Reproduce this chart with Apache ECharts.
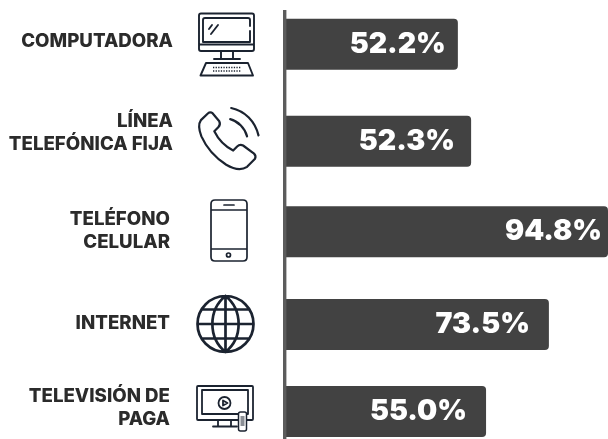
<!DOCTYPE html>
<html><head><meta charset="utf-8">
<style>html,body{margin:0;padding:0;background:#fff}#c{width:608px;height:439px}</style>
<script src="https://cdn.jsdelivr.net/npm/echarts@6/dist/echarts.min.js"></script>
</head><body><div id="c"></div>
<script>
// ---- data ----
const categories = ['COMPUTADORA', 'LÍNEA\nTELEFÓNICA FIJA', 'TELÉFONO\nCELULAR', 'INTERNET', 'TELEVISIÓN DE\nPAGA'];
const printedValues = ['52.2%', '52.3%', '94.8%', '73.5%', '55.0%'];
// Bar lengths as drawn in the picture (the bars are not proportional to their printed figures)
const drawnLengths = [50.6, 54.5, 94.8, 77.4, 58.9];

// ---- layout ----
const rowCenters = [44.2, 141.2, 231.8, 324.6, 411.6];
const labelInsets = [12, 16, 6, 19, 19];
const catRight = [173, 173, 170, 170, 170];
const catMiddle = [41, 133, 231, 323.5, 408];
const FONT = 'Inter';
const BAR = '#424242', INK = '#2b2b2b', ICON = '#1b2330';

const grids = [], xAxes = [], yAxes = [], series = [];
categories.forEach((cat, i) => {
  grids.push({left: 286, width: 322, top: rowCenters[i] - 26, height: 52});
  xAxes.push({gridIndex: i, type: 'value', min: 0, max: 94.8, show: false});
  yAxes.push({gridIndex: i, type: 'category', data: [cat], show: false});
  series.push({
    type: 'bar', xAxisIndex: i, yAxisIndex: i, barWidth: 51, silent: true,
    data: [drawnLengths[i]],
    itemStyle: {color: BAR, borderRadius: [0, 4, 4, 0]},
    label: {
      show: true, position: 'insideRight', distance: labelInsets[i],
      formatter: printedValues[i], color: '#fff',
      fontFamily: FONT, fontWeight: 900, fontSize: 28.5, letterSpacing: -1.2
    }
  });
});

const stroke = (w) => ({fill: 'none', stroke: ICON, lineWidth: w, lineCap: 'round', lineJoin: 'round'});
function icon(pathData, x, y, width, height, w) {
  return {type: 'path', shape: {pathData, layout: 'cover', x, y, width, height}, style: stroke(w)};
}
const circ = (cx, cy, r) => `M${cx - r} ${cy}A${r} ${r} 0 1 1 ${cx + r} ${cy}A${r} ${r} 0 1 1 ${cx - r} ${cy}Z`;

const computer = 'M201 13.5H252Q254 13.5 254 15.5V49Q254 51 252 51H201Q199 51 199 49V15.5Q199 13.5 201 13.5Z' +
  'M203 42V20Q203 18 205 18H248Q250 18 250 20V26M250 31V42M203 42H250M199 44.5H254' +
  'M221 51V59M233 51V59M214 59H240M206 63H248L253 75.5H200.5ZM211 34L218 25M209 29L212 25';
const keys = 'M213 67.5H241M213 71H241';
const handset = 'M208 113L200.5 120C197 125 199 131 201 136C206 147 215 157 226 164C233 168 241 170 247 166L255 158' +
  'C256 156 255 154 254 153L243 145C241 144 239 144 237 146L233 150C225 146 218 139 214 131L218 127C220 125 220 123 219 121L212 113C211 112 209 112 208 113Z' +
  'M230 119C238 121 245 128 247 136M231 108C245 111 255 121 258.5 135';
const mobile = 'M215 200H243Q247 200 247 204V257Q247 261 243 261H215Q211 261 211 257V204Q211 200 215 200Z' +
  'M211 210H247M224 205H234M211 249H247' + circ(228.5, 255, 2);
const globe = circ(225.5, 324, 28) + 'M225.5 296V352M197.5 324H253.5M202 309.5H249M202 338.5H249' +
  'M225.5 296C208 310 208 338 225.5 352M225.5 296C243 310 243 338 225.5 352';
const tv = 'M198 386H252Q253 386 253 387V419Q253 420 252 420H198Q197 420 197 419V387Q197 386 198 386Z' +
  'M202 414V390H248V414H202M218 420V426M231 420V426M213 426.5H237' + circ(224.5, 403, 6) + 'M223 400.5L227.5 403L223 405.5Z';

series.push({
  type: 'custom', coordinateSystem: 'none', silent: true, z: 5,
  data: [0],
  renderItem: () => ({
    type: 'group',
    children: [
      icon(computer, 199, 13.5, 55, 62, 1.9),
      {type: 'path', shape: {pathData: keys, layout: 'cover', x: 213, y: 67.5, width: 28, height: 3.5},
        style: {fill: 'none', stroke: ICON, lineWidth: 1.3, lineDash: [1.3, 1.3]}},
      icon(handset, 199, 108, 59.5, 61, 2.2),
      icon(mobile, 211, 200, 36, 61, 1.7),
      icon(globe, 197.5, 296, 56, 56, 2.7),
      icon(tv, 197, 386, 56, 40.5, 1.8),
      {type: 'rect', shape: {x: 238.5, y: 412, width: 8, height: 19, r: 2},
        style: {fill: '#fff', stroke: ICON, lineWidth: 1.5}},
      {type: 'rect', shape: {x: 240.5, y: 416, width: 4, height: 10}, style: {fill: '#8a8e95'}}
    ]
  })
});

const option = {
  animation: false,
  backgroundColor: '#fff',
  grid: grids, xAxis: xAxes, yAxis: yAxes, series,
  graphic: [
    {type: 'rect', z: 10, shape: {x: 283, y: 10, width: 3.4, height: 429}, style: {fill: '#5c5c5c'}}
  ].concat(categories.map((text, i) => ({
    type: 'text', z: 10, x: catRight[i], y: catMiddle[i],
    style: {
      text, fill: INK, align: 'right', verticalAlign: 'middle',
      font: '800 18.7px ' + FONT, lineHeight: 23.5
    }
  })))
};
echarts.init(document.getElementById('c'), null, {renderer: 'canvas'}).setOption(option);
</script></body></html>
